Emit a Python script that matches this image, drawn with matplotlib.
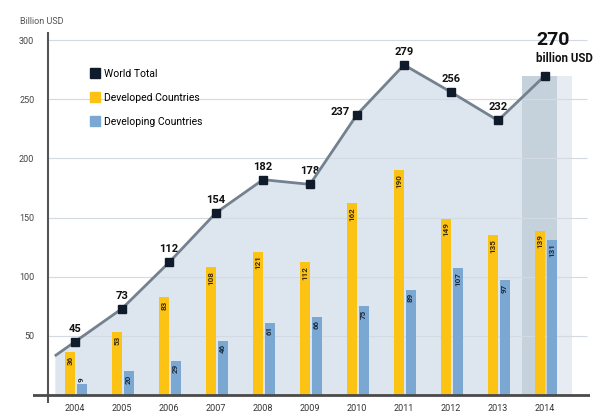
import numpy as np
import matplotlib.pyplot as plt
from matplotlib.lines import Line2D

plt.rcParams['font.family'] = ['Roboto', 'DejaVu Sans']

years = ["2004", "2005", "2006", "2007", "2008", "2009", "2010", "2011", "2012", "2013", "2014"]
world_total = [45, 73, 112, 154, 182, 178, 237, 279, 256, 232, 270]
developed = [36, 53, 83, 108, 121, 112, 162, 190, 149, 135, 139]
developing = [9, 20, 29, 46, 61, 66, 75, 89, 107, 97, 131]

c_yellow = '#fcc214'
c_blue = '#7ba8d3'
c_marker = '#0f1b2a'
c_line = '#74818f'
c_area = '#dde5ee'

x = np.arange(len(years))

fig = plt.figure(figsize=(6, 4.16), dpi=100)
ax = fig.add_axes([0.055, 0.03125, 0.9283, 0.8918])
ax.set_xlim(-0.894, 10.957)
ax.set_ylim(-6.8, 306.8)

# shaded area under the world total, line pulled a bit to the left of 2004
lead = 0.43
x_ext = np.concatenate([[-lead], x])
y_ext = np.concatenate([[world_total[0] - lead * (world_total[1] - world_total[0])], world_total])
ax.fill_between(x_ext, 0, y_ext, color=c_area, zorder=1, lw=0)

# highlight column for the latest year
ax.bar(x[-1] - 0.49, world_total[-1], width=0.745, align='edge', color='#c5d2dc', zorder=1.2, lw=0)
ax.bar(x[-1] + 0.255, world_total[-1], width=0.32, align='edge', color='#e6ecf1', zorder=1.2, lw=0)

# gridlines
for g in [50, 100, 150, 200, 250, 300]:
    ax.hlines(g, -0.574, 10.9, color='#d3dae1', lw=0.8, zorder=1.5)

# bars
w = 0.213
off_dev, off_dvg = -0.11, 0.14
ax.bar(x + off_dev, developed, width=w, color=c_yellow, zorder=2, lw=0)
ax.bar(x + off_dvg, developing, width=w, color=c_blue, zorder=2, lw=0)

for xi, v in zip(x, developed):
    ax.text(xi + off_dev, v - 3, str(v), rotation=90, ha='center', va='top',
            fontsize=5.8, fontweight='bold', color='#3b2c05', zorder=3)
for xi, v in zip(x, developing):
    if v < 15:
        ax.text(xi + off_dvg, v + 2, str(v), rotation=90, ha='center', va='bottom',
                fontsize=5.8, fontweight='bold', color='#1c2b3e', zorder=3)
    else:
        ax.text(xi + off_dvg, v - 3, str(v), rotation=90, ha='center', va='top',
                fontsize=5.8, fontweight='bold', color='#1c2b3e', zorder=3)

# world total line
ax.plot(x_ext, y_ext, color=c_line, lw=2, zorder=4, solid_capstyle='butt')
ax.plot(x, world_total, ls='none', marker='s', ms=6, color=c_marker, zorder=5)

for i, v in enumerate(world_total):
    if i == len(world_total) - 1:
        ax.annotate(str(v), (x[i], v), xytext=(-9, 36), textcoords='offset pixels',
                    ha='left', va='center', fontsize=14, fontweight='bold', color='#111111')
        ax.annotate('billion USD', (x[i], v), xytext=(-9, 17), textcoords='offset pixels',
                    ha='left', va='center', fontsize=8.3, fontweight='bold', color='#111111')
    elif years[i] == "2010":
        ax.annotate(str(v), (x[i], v), xytext=(-7, 3), textcoords='offset pixels',
                    ha='right', va='center', fontsize=8, fontweight='bold', color='#111111')
    else:
        ax.annotate(str(v), (x[i], v), xytext=(0, 8), textcoords='offset pixels',
                    ha='center', va='bottom', fontsize=8, fontweight='bold', color='#111111')

# axes lines
ax.axvline(-0.574, color='#555555', lw=1.5, zorder=6)
ax.axhline(0, color='#4a4a4a', lw=2, zorder=6)
for s in ax.spines.values():
    s.set_visible(False)

ax.set_xticks(x)
ax.set_xticklabels(years)
ax.set_yticks([50, 100, 150, 200, 250, 300])
ax.tick_params(axis='x', length=0, pad=1, labelsize=6.5, labelcolor='#333333')
ax.tick_params(axis='y', length=0, pad=-1, labelsize=6.5, labelcolor='#444444')
fig.text(20 / 600, 1 - 22 / 416, 'Billion USD', fontsize=6.5, color='#555555', va='center')

handles = [
    Line2D([], [], ls='none', marker='s', ms=6.5, color=c_marker),
    Line2D([], [], ls='none', marker='s', ms=6.5, color=c_yellow),
    Line2D([], [], ls='none', marker='s', ms=6.5, color=c_blue),
]
ax.legend(handles, ['World Total', 'Developed Countries', 'Developing Countries'],
          loc='upper left', bbox_to_anchor=(0.085, 0.926), frameon=False,
          fontsize=7.5, labelspacing=1.35, handletextpad=0.4, handlelength=1.0)

fig.savefig('out.png', dpi=100)
